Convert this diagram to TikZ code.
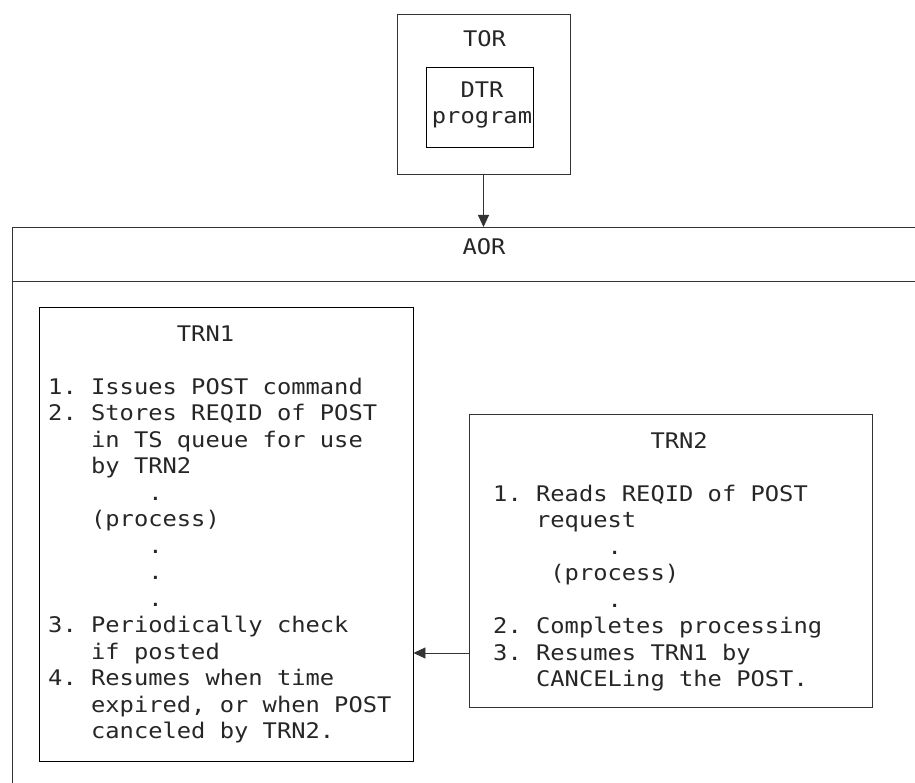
\documentclass[tikz,border=0pt]{standalone}
\usepackage{fontspec}
\newfontfamily\listfont[FakeStretch=1.105]{DejaVu Sans Mono}
\usetikzlibrary{arrows.meta}
\newlength{\chw}
\setlength{\chw}{14.3pt}
\newcommand{\ind}[1]{\makebox[#1\chw]{}}
\tikzset{
  box/.style={draw=black!80, line width=0.9pt, inner sep=0pt},
  mono/.style={font=\listfont\fontsize{21.5}{26.5}\selectfont\frenchspacing, text=black!85, inner sep=0pt},
  >={Triangle[length=12pt,width=11pt]}
}
\begin{document}
\begin{tikzpicture}
  [x=1pt,y=-1pt]
  \useasboundingbox (0,0) rectangle (915,783);

  % TOR region with the DTR program
  \node[box, minimum width=173pt, minimum height=160pt] (TOR) at (483.5,94) {};
  \node[mono, anchor=base] (torlbl) at (484.5,47) {TOR};
  \node[box, draw=black, minimum width=107pt, minimum height=80pt] (DTR) at (479.5,107) {};
  \node[mono, anchor=base, align=center] (dtrlbl) at (482,124) {DTR\\program};

  % AOR region, runs off the page
  \node[box, anchor=north west, minimum width=940pt, minimum height=620pt] (AOR) at (12,227) {};
  \coordinate (div) at (0,281);
  \draw[box] (AOR.west |- div) -- (AOR.east |- div);
  \node[mono, anchor=base] (aorlbl) at (484,255) {AOR};

  \draw[->, box] (TOR.south) -- (TOR.south |- AOR.north);

  % TRN1 (placed by its last baseline)
  \node[box, draw=black, minimum width=374pt, minimum height=454pt] (TRN1) at (226,534) {};
  \node[mono, anchor=base west, align=left] (trn1txt) at (48,738.5)
    {\ind{9}TRN1\\[26.5pt]
     1. Issues POST command\\
     2. Stores REQID of POST\\
     \ind{3}in TS queue for use\\
     \ind{3}by TRN2\\
     \ind{7}.\\
     \ind{3}(process)\\
     \ind{7}.\\
     \ind{7}.\\
     \ind{7}.\\
     3. Periodically check\\
     \ind{3}if posted\\
     4. Resumes when time\\
     \ind{3}expired, or when POST\\
     \ind{3}canceled by TRN2.};

  % TRN2
  \node[box, minimum width=403pt, minimum height=293pt] (TRN2) at (670.5,560.5) {};
  \node[mono, anchor=base west, align=left] (trn2txt) at (493,686.5)
    {\ind{11}TRN2\\[26.5pt]
     1. Reads REQID of POST\\
     \ind{3}request\\
     \ind{8}.\\
     \ind{4}(process)\\
     \ind{8}.\\
     2. Completes processing\\
     3. Resumes TRN1 by\\
     \ind{3}CANCELing the POST.};

  \coordinate (cancel) at (0,653);
  \draw[->, box] (TRN2.west |- cancel) -- (TRN1.east |- cancel);
\end{tikzpicture}
\end{document}
